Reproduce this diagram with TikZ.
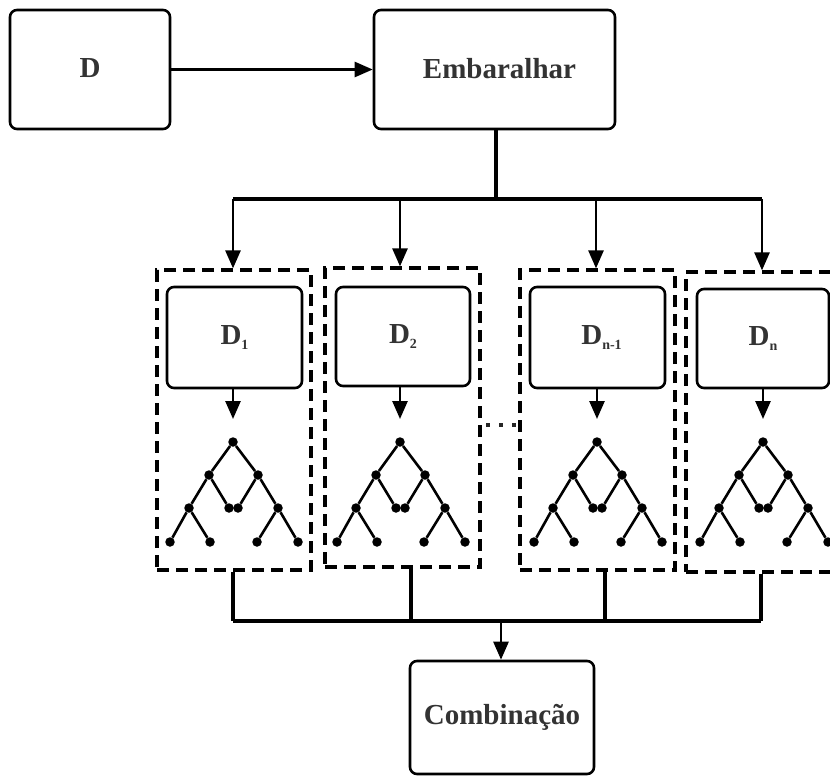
\documentclass[tikz,border=0pt]{standalone}
\usepackage{fontspec}
\setmainfont{Liberation Serif}
\usetikzlibrary{arrows.meta}
\definecolor{txt}{HTML}{333333}
\newcommand\mysub[1]{\raisebox{-5pt}{\fontsize{14}{14}\selectfont #1}}
\begin{document}
\begin{tikzpicture}[x=1pt,y=-1pt,
  box/.style={draw=black, line width=2.6pt, rounded corners=7pt, inner sep=0pt,
    font=\fontsize{29}{30}\selectfont\bfseries, text=txt},
  grp/.style={draw=black, line width=3.2pt, dash pattern=on 12pt off 7pt, inner sep=0pt},
  conn/.style={line width=3.2pt},
  arr/.style={line width=2.6pt, -{Triangle[length=18pt,width=15pt]}},
  dotn/.style={circle, fill=black, inner sep=0pt, minimum size=9.5pt},
  treeline/.style={line width=2.6pt},
]
\useasboundingbox (0,0) rectangle (830,776);
\clip (0,0) rectangle (830,776);

% top boxes
\node[box, minimum width=160pt, minimum height=119pt] (D) at (90,69.5) {\raisebox{2pt}{D}};
\node[box, minimum width=241pt, minimum height=119pt] (E) at (494.5,69.5) {\hspace{10pt}\raisebox{3pt}{Embaralhar}};
\draw[arr] (D) -- (E);

% dashed groups
\node[grp, minimum width=154pt, minimum height=300pt] (b1) at (234,420) {};
\node[grp, minimum width=155pt, minimum height=299pt] (b2) at (402.5,417.5) {};
\node[grp, minimum width=155pt, minimum height=300pt] (b3) at (597.5,420) {};
\node[grp, minimum width=160pt, minimum height=300pt] (b4) at (766,422) {};

% inner boxes
\node[box, minimum width=135pt, minimum height=101pt] (d1) at (234.5,337.5) {D\mysub{1}};
\node[box, minimum width=134pt, minimum height=99pt] (d2) at (403,336.5) {D\mysub{2}};
\node[box, minimum width=135pt, minimum height=101pt] (d3) at (597.5,337.5) {\hspace{8pt}D\mysub{n-1}};
\node[box, minimum width=132pt, minimum height=99pt] (d4) at (763,338.5) {D\mysub{n}};

% bottom box
\node[box, minimum width=184pt, minimum height=113pt] (C) at (502,717.5) {Combinação};

% distribution from Embaralhar
\coordinate (hub) at (496,199);
\coordinate (s1) at (233,199);
\coordinate (s2) at (400,199);
\coordinate (s3) at (596,199);
\coordinate (s4) at (762,199);
\draw[conn] (hub |- E.south) -- (hub);
\draw[conn] (s1) -- (s4);
\draw[arr] (s1) -- (s1 |- b1.north);
\draw[arr] (s2) -- (s2 |- b2.north);
\draw[arr] (s3) -- (s3 |- b3.north);
\draw[arr] (s4) -- (s4 |- b4.north);

% inner arrows
\coordinate (a1) at (233,419);
\coordinate (a2) at (400,419);
\coordinate (a3) at (597,419);
\coordinate (a4) at (763,419);
\draw[arr] (a1 |- d1.south) -- (a1);
\draw[arr] (a2 |- d2.south) -- (a2);
\draw[arr] (a3 |- d3.south) -- (a3);
\draw[arr] (a4 |- d4.south) -- (a4);

% trees
\foreach \i/\x in {1/233,2/400,3/597,4/763} {
  \begin{scope}[shift={(\x,442)}]
    \node[dotn] (t\i r) at (0,0) {};
    \node[dotn] (t\i a) at (-24,33) {};
    \node[dotn] (t\i b) at (25,33) {};
    \node[dotn] (t\i c) at (-44,66) {};
    \node[dotn] (t\i e) at (-4,66) {};
    \node[dotn] (t\i f) at (5,66) {};
    \node[dotn] (t\i g) at (45,66) {};
    \node[dotn] (t\i h) at (-63,100) {};
    \node[dotn] (t\i i) at (-23,100) {};
    \node[dotn] (t\i j) at (24,100) {};
    \node[dotn] (t\i k) at (65,100) {};
    \draw[treeline] (t\i r) -- (t\i a) (t\i r) -- (t\i b)
      (t\i a) -- (t\i c) (t\i a) -- (t\i e)
      (t\i b) -- (t\i f) (t\i b) -- (t\i g)
      (t\i c) -- (t\i h) (t\i c) -- (t\i i)
      (t\i g) -- (t\i j) (t\i g) -- (t\i k);
  \end{scope}
}

% dotted ellipsis between groups
\coordinate (dotL) at (486,425);
\coordinate (dotR) at (516,425);
\draw[line width=3.5pt, dash pattern=on 3.5pt off 9.5pt, black!85] (dotL) -- (dotR);

% combination
\coordinate (m1) at (233,621);
\coordinate (m2) at (411,621);
\coordinate (m3) at (605,621);
\coordinate (m4) at (761,621);
\coordinate (mc) at (501,621);
\draw[conn] (m1 |- b1.south) -- (m1);
\draw[conn] (m2 |- b2.south) -- (m2);
\draw[conn] (m3 |- b3.south) -- (m3);
\draw[conn] (m4 |- b4.south) -- (m4);
\draw[conn] (m1) -- (m4);
\draw[arr] (mc) -- (mc |- C.north);
\end{tikzpicture}
\end{document}
